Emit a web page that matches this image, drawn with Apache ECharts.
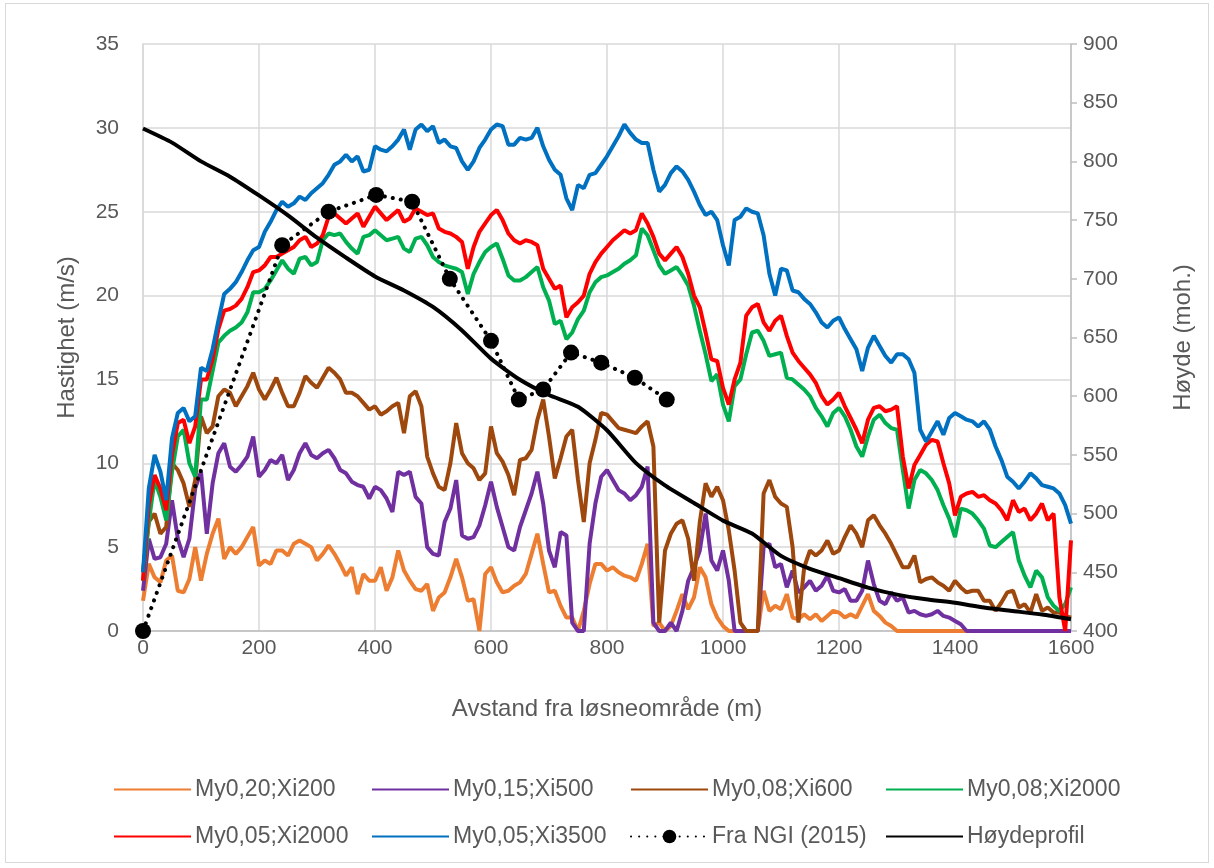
<!DOCTYPE html>
<html>
<head>
<meta charset="utf-8">
<script src="https://cdn.jsdelivr.net/npm/echarts/dist/echarts.min.js"></script>
<style>
  html, body { margin: 0; padding: 0; background: #fff; }
  #chart { width: 1214px; height: 868px; }
  #frame { position: absolute; left: 5px; top: 3px; width: 1202px; height: 858px; border: 1px solid #D9D9D9; pointer-events: none; }
</style>
</head>
<body>
<div id="chart"></div>
<div id="frame"></div>
<script>
// distance step (m) between samples of the simulated runs
const STEP = 10;

const seriesNames = ['My0,20;Xi200', 'My0,15;Xi500', 'My0,08;Xi600', 'My0,08;Xi2000',
  'My0,05;Xi2000', 'My0,05;Xi3500', 'Fra NGI (2015)', 'Høydeprofil'];

const my020xi200 = [
  1.8, 4.0, 3.2, 2.9, 4.2, 4.5, 2.4, 2.3, 3.1, 5.0,
  3.0, 4.6, 5.8, 6.7, 4.3, 5.0, 4.6, 5.0, 5.6, 6.2,
  3.9, 4.2, 4.0, 4.8, 4.8, 4.5, 5.2, 5.4, 5.2, 5.0,
  4.2, 4.6, 5.1, 4.6, 4.0, 3.3, 3.8, 2.2, 3.4, 3.0,
  3.0, 3.8, 2.4, 3.2, 4.8, 3.6, 3.0, 2.5, 2.4, 2.8,
  1.2, 2.0, 2.3, 3.2, 4.3, 3.2, 1.8, 1.9, 0.0, 3.4,
  3.8, 2.9, 2.3, 2.4, 2.7, 2.9, 3.4, 4.6, 5.8, 4.0,
  2.3, 2.4, 1.5, 0.8, 0.8, 0.0, 1.2, 2.8, 4.0, 4.0,
  3.6, 3.8, 3.5, 3.3, 3.2, 3.0, 4.0, 5.2, 0.3, 0.5,
  0.0, 0.3, 1.2, 2.2, 1.3, 2.0, 3.8, 3.2, 1.6, 0.8,
  0.3, 0, 0, 0, 0, 0, 0, 2.4, 1.2, 1.5,
  1.3, 2.2, 0.8, 0.7, 1.0, 0.7, 1.0, 0.6, 0.9, 1.2,
  1.1, 0.8, 1.0, 0.8, 1.5, 2.2, 1.2, 0.9, 0.5, 0.3,
  0, 0, 0, 0, 0, 0, 0, 0, 0, 0,
  0, 0, 0, 0, 0, 0, 0, 0, 0, 0,
  0, 0, 0, 0, 0, 0, 0, 0, 0, 0,
  0
];

const my015xi500 = [
  2.4, 5.5, 4.3, 4.4, 5.2, 7.8, 5.5, 4.4, 5.5, 8.5,
  9.5, 5.8, 8.8, 10.6, 11.2, 9.8, 9.5, 9.9, 10.4, 11.6,
  9.2, 9.6, 10.2, 10.0, 10.5, 9.0, 9.6, 10.6, 11.2, 10.5,
  10.3, 10.6, 10.8, 10.3, 9.6, 9.4, 8.9, 8.7, 8.6, 7.9,
  8.6, 8.4, 7.9, 7.1, 9.5, 9.3, 9.5, 8.0, 7.6, 5.0,
  4.6, 4.5, 6.5, 7.3, 9.0, 5.7, 5.5, 5.6, 6.3, 7.5,
  8.9, 7.4, 6.2, 5.0, 4.8, 6.2, 7.2, 8.2, 9.5, 7.6,
  4.8, 3.8, 5.9, 5.7, 0.5, 0, 0, 5.2, 7.6, 9.2,
  9.6, 9.0, 8.4, 8.2, 7.8, 8.1, 8.6, 9.8, 0.5, 0,
  0, 0.5, 0, 1.2, 3.0, 3.8, 4.8, 7.0, 4.2, 3.6,
  4.8, 3.0, 0, 0, 0, 0, 0, 5.0, 5.2, 3.8,
  4.0, 2.6, 3.6, 2.3, 2.6, 3.0, 2.4, 2.7, 3.3, 2.4,
  2.3, 2.5, 1.8, 1.8, 2.4, 4.2, 2.8, 1.8, 1.6, 2.3,
  1.8, 2.0, 1.1, 1.2, 1.0, 0.9, 1.0, 1.2, 0.9, 0.8,
  0.6, 0.4, 0, 0, 0, 0, 0, 0, 0, 0,
  0, 0, 0, 0, 0, 0, 0, 0, 0, 0,
  0
];

const my008xi600 = [
  3.6, 6.5, 7.0, 5.8, 6.2, 10.0, 9.6, 8.8, 7.4, 9.0,
  12.8, 11.8, 12.2, 14.0, 14.4, 14.2, 13.4, 14.0, 14.6, 15.4,
  14.4, 13.8, 14.4, 15.1, 14.2, 13.4, 13.4, 14.2, 15.2, 14.8,
  14.5, 15.1, 15.7, 15.4, 15.0, 14.2, 14.2, 14.0, 13.6, 13.2,
  13.4, 12.9, 13.1, 13.4, 13.6, 11.8, 14.0, 14.3, 13.4, 10.4,
  9.4, 8.6, 8.4, 10.0, 12.4, 10.6, 10.0, 9.7, 9.0, 9.4,
  12.2, 10.6, 10.1, 9.3, 8.1, 10.2, 10.3, 10.8, 12.6, 13.8,
  11.6, 9.1, 10.3, 11.6, 12.0, 9.0, 6.5, 10.0, 11.4, 13.0,
  12.9, 12.5, 12.1, 12.0, 11.9, 11.8, 12.2, 12.5, 11.0, 0.5,
  4.8, 5.8, 6.4, 6.6, 5.5, 3.0, 6.5, 8.8, 8.0, 8.6,
  7.8, 6.0, 3.6, 0.5, 0, 0, 0, 8.2, 9.0, 8.0,
  7.6, 7.4, 5.0, 0.5, 3.8, 4.8, 4.5, 4.8, 5.4, 4.6,
  4.8, 5.6, 6.3, 5.8, 5.0, 6.6, 6.9, 6.3, 5.8, 5.2,
  4.5, 3.8, 3.8, 4.5, 2.9, 3.1, 3.2, 2.9, 2.7, 2.4,
  3.0, 2.6, 2.3, 2.4, 2.4, 1.8, 1.8, 1.2, 1.7, 2.3,
  2.4, 1.4, 1.6, 1.1, 2.2, 1.2, 1.4, 1.1, 1.1, 0.9,
  0.8
];

const my008xi2000 = [
  3.0, 6.5, 9.0, 8.0, 6.6, 9.5, 11.6, 12.0, 10.0, 9.2,
  13.8, 13.8, 15.5, 17.2, 17.6, 17.9, 18.1, 18.4, 19.0, 20.2,
  20.2, 20.4, 20.9, 21.5, 22.1, 21.6, 21.3, 22.2, 22.3, 21.8,
  22.0, 23.3, 23.7, 23.6, 23.7, 23.2, 22.8, 22.5, 23.5, 23.6,
  23.9, 23.6, 23.3, 23.4, 23.5, 22.8, 22.6, 23.4, 23.5, 23.0,
  22.3, 22.0, 21.8, 21.7, 21.6, 21.4, 20.1, 21.3, 22.0, 22.6,
  22.9, 23.1, 22.2, 21.2, 20.9, 20.9, 21.1, 21.4, 21.7, 20.5,
  19.7, 18.3, 18.5, 17.4, 17.8, 18.6, 19.1, 20.2, 20.8, 21.1,
  21.2, 21.4, 21.6, 21.9, 22.1, 22.4, 24.0, 23.6, 22.7, 21.8,
  21.3, 21.5, 21.7, 21.2, 20.6, 19.4, 17.9, 16.5, 14.9, 15.3,
  13.5, 12.5, 14.6, 15.0, 16.5, 17.8, 17.9, 17.3, 16.4, 16.5,
  16.6, 15.1, 15.0, 14.7, 14.4, 14.0, 13.3, 12.8, 12.2, 13.0,
  13.3, 12.8, 12.0, 11.0, 10.4, 11.6, 12.6, 12.9, 12.4, 12.1,
  12.0, 9.6, 7.3, 9.0, 9.6, 9.4, 9.0, 8.4, 7.5, 6.7,
  5.6, 7.3, 7.2, 7.0, 6.6, 6.1, 5.1, 5.0, 5.3, 5.6,
  5.9, 4.2, 3.3, 2.6, 3.6, 3.2, 2.0, 1.5, 1.2, 1.6,
  2.6
];

const my005xi2000 = [
  3.0, 7.5, 9.3, 8.5, 7.2, 10.5, 12.4, 12.6, 11.2, 12.2,
  15.0, 15.0, 16.2, 18.0, 19.1, 19.2, 19.4, 19.8, 20.5, 21.4,
  21.5, 21.8, 22.3, 22.3, 22.5, 22.7, 22.9, 23.3, 23.5, 22.9,
  23.1, 23.6, 24.7, 24.9, 24.6, 24.3, 24.6, 24.9, 24.1, 24.7,
  25.3, 24.9, 24.5, 24.8, 25.1, 24.4, 24.6, 25.2, 25.0, 24.8,
  24.9, 24.0, 23.8, 23.7, 23.5, 23.2, 21.6, 22.9, 23.8, 24.3,
  24.8, 25.1, 24.5, 23.7, 23.3, 23.1, 23.3, 23.2, 23.0, 21.6,
  21.0, 20.4, 20.6, 18.7, 19.3, 19.6, 20.0, 21.3, 22.0, 22.5,
  22.9, 23.3, 23.6, 23.9, 23.7, 23.9, 24.9, 24.3, 23.5, 22.5,
  22.1, 22.5, 22.9, 22.3, 21.3, 20.0, 19.3, 17.8, 16.2, 16.1,
  14.5, 13.5, 15.0, 16.0, 18.8, 19.3, 19.5, 18.4, 17.9, 18.5,
  18.8, 17.6, 16.6, 16.1, 15.7, 15.3, 14.8, 14.0, 13.5, 13.8,
  14.2, 13.4, 12.7, 12.0, 11.2, 12.6, 13.3, 13.4, 13.1, 13.2,
  13.4, 10.4, 8.5, 9.9, 10.5, 11.1, 11.4, 11.3, 10.0, 8.8,
  6.9, 8.0, 8.2, 8.3, 8.0, 8.1, 7.8, 7.6, 7.2, 6.6,
  7.8, 7.1, 7.3, 6.6, 7.0, 7.6, 6.6, 7.0, 2.0, 0,
  5.4
];

const my005xi3500 = [
  3.5, 8.5, 10.5, 9.5, 7.8, 11.5, 13.0, 13.3, 12.5, 12.8,
  15.7, 15.5, 16.8, 18.5, 20.1, 20.4, 20.8, 21.4, 22.1, 22.7,
  22.9, 23.8, 24.4, 25.1, 25.6, 25.3, 25.5, 25.9, 25.7, 26.1,
  26.4, 26.7, 27.2, 27.8, 28.0, 28.4, 28.0, 28.3, 27.4, 27.5,
  28.9, 28.7, 28.6, 28.9, 29.3, 29.9, 28.7, 29.9, 30.2, 29.8,
  30.1, 29.1, 29.3, 28.9, 28.8, 28.0, 27.5, 28.0, 28.8, 29.3,
  29.9, 30.2, 30.1, 29.0, 29.0, 29.4, 29.3, 29.4, 30.0, 28.9,
  28.1, 27.5, 27.2, 25.8, 25.1, 26.6, 26.4, 27.2, 27.3, 27.8,
  28.3, 28.9, 29.5, 30.2, 29.7, 29.3, 29.1, 29.1, 27.5, 26.2,
  26.6, 27.3, 27.7, 27.4, 26.9, 26.2, 25.4, 24.8, 25.0, 24.5,
  23.0, 21.8, 24.5, 24.7, 25.2, 25.0, 24.9, 23.6, 21.3, 20.0,
  21.6, 21.5, 20.3, 20.2, 19.8, 19.5, 19.0, 18.4, 18.1, 18.5,
  18.7, 18.0, 17.4, 16.8, 15.5, 16.9, 17.6, 17.0, 16.4, 16.0,
  16.5, 16.5, 16.2, 15.4, 12.0, 11.3, 11.9, 12.5, 11.7, 12.7,
  13.0, 12.8, 12.6, 12.5, 12.2, 12.5, 12.0, 11.0, 10.2, 9.2,
  8.9, 8.5, 8.9, 9.4, 9.1, 8.7, 8.6, 8.5, 8.2, 7.5,
  6.4
];

// Fra NGI (2015)
const ngiX = [0, 240, 320, 402, 464, 529, 600, 648, 690, 738, 790, 848, 903];
const ngiY = [0, 23.0, 25.0, 26.0, 25.6, 21.0, 17.3, 13.8, 14.4, 16.6, 16.0, 15.1, 13.8];

// Høydeprofil (moh.), every 50 m
const profilX = [0, 50, 100, 150, 200, 250, 300, 350, 400, 450, 500, 550, 600, 650, 700, 750,
  800, 850, 900, 950, 1000, 1050, 1100, 1150, 1200, 1250, 1300, 1350, 1400, 1450, 1500, 1550, 1600];
const profilY = [828, 816, 800, 787, 771, 754, 735, 718, 702, 690, 676, 656, 632, 614, 601, 591,
  571, 543, 524, 509, 494, 483, 464, 453, 445, 437, 431, 427, 424, 420, 417, 414, 410];

const colors = ['#ED7D31', '#7030A0', '#9E480E', '#00B050', '#FF0000', '#0070C0', '#000000', '#000000'];
const textColor = '#595959';

const toPairs = vals => vals.map((v, i) => [i * STEP, v]);
const zip = (xs, ys) => xs.map((x, i) => [x, ys[i]]);

const runs = [my020xi200, my015xi500, my008xi600, my008xi2000, my005xi2000, my005xi3500];

const series = runs.map((vals, i) => ({
  name: seriesNames[i],
  type: 'line',
  data: toPairs(vals),
  symbol: 'none',
  lineStyle: { color: colors[i], width: 4 },
  itemStyle: { color: colors[i] },
  z: 2 + i
}));

series.push({
  name: seriesNames[6],
  type: 'line',
  data: zip(ngiX, ngiY),
  symbol: 'circle',
  symbolSize: 16,
  itemStyle: { color: '#000' },
  lineStyle: { color: '#000', width: 4, type: [0.1, 8], cap: 'round' },
  z: 10
});

series.push({
  name: seriesNames[7],
  type: 'line',
  yAxisIndex: 1,
  data: zip(profilX, profilY),
  symbol: 'none',
  smooth: 0.2,
  lineStyle: { color: '#000', width: 4 },
  itemStyle: { color: '#000' },
  z: 9
});

// legend: four columns of two rows; only the NGI entry keeps its marker
const legendItem = name => name === 'Fra NGI (2015)'
  ? { name: name }
  : { name: name, itemStyle: { opacity: 0 } };

const legendCols = [108, 366, 625, 880];
const legends = legendCols.map((left, c) => ({
  orient: 'vertical',
  left: left,
  top: 773,
  itemWidth: 77,
  itemHeight: 17,
  itemGap: 24,
  data: [legendItem(seriesNames[c]), legendItem(seriesNames[c + 4])],
  textStyle: { fontSize: 23, color: textColor, fontFamily: 'Liberation Sans', padding: [0, 0, 0, -1] }
}));

const chart = echarts.init(document.getElementById('chart'));
chart.setOption({
  animation: false,
  backgroundColor: '#fff',
  textStyle: { fontFamily: 'Liberation Sans' },
  grid: { left: 143, right: 143, top: 44, bottom: 237 },
  legend: legends,
  xAxis: {
    type: 'value',
    min: 0, max: 1600, interval: 200,
    name: 'Avstand fra løsneområde (m)',
    nameLocation: 'middle',
    nameGap: 66,
    nameTextStyle: { fontSize: 24, color: textColor },
    axisLine: { show: true, lineStyle: { color: '#BFBFBF', width: 1.5 } },
    axisTick: { show: false },
    axisLabel: { fontSize: 21, color: textColor, margin: 7, formatter: v => String(v) },
    splitLine: { show: true, lineStyle: { color: '#D9D9D9', width: 1.5 } }
  },
  yAxis: [
    {
      type: 'value',
      min: 0, max: 35, interval: 5,
      name: 'Hastighet (m/s)',
      nameLocation: 'middle',
      nameGap: 64,
      nameTextStyle: { fontSize: 24, color: textColor },
      axisLine: { show: true, lineStyle: { color: '#D9D9D9', width: 1.5 } },
      axisTick: { show: false },
      axisLabel: { fontSize: 21, color: textColor, margin: 24 },
      splitLine: { show: true, lineStyle: { color: '#D9D9D9', width: 1.5 } }
    },
    {
      type: 'value',
      position: 'right',
      min: 400, max: 900, interval: 50,
      name: 'Høyde (moh.)',
      nameLocation: 'middle',
      nameGap: 100,
      nameTextStyle: { fontSize: 24, color: textColor },
      axisLine: { show: true, lineStyle: { color: '#BFBFBF', width: 1.5 } },
      axisTick: { show: true, length: 6, lineStyle: { color: '#BFBFBF', width: 1.5 } },
      axisLabel: { fontSize: 21, color: textColor, margin: 12 },
      splitLine: { show: false }
    }
  ],
  series: series
});
</script>
</body>
</html>
